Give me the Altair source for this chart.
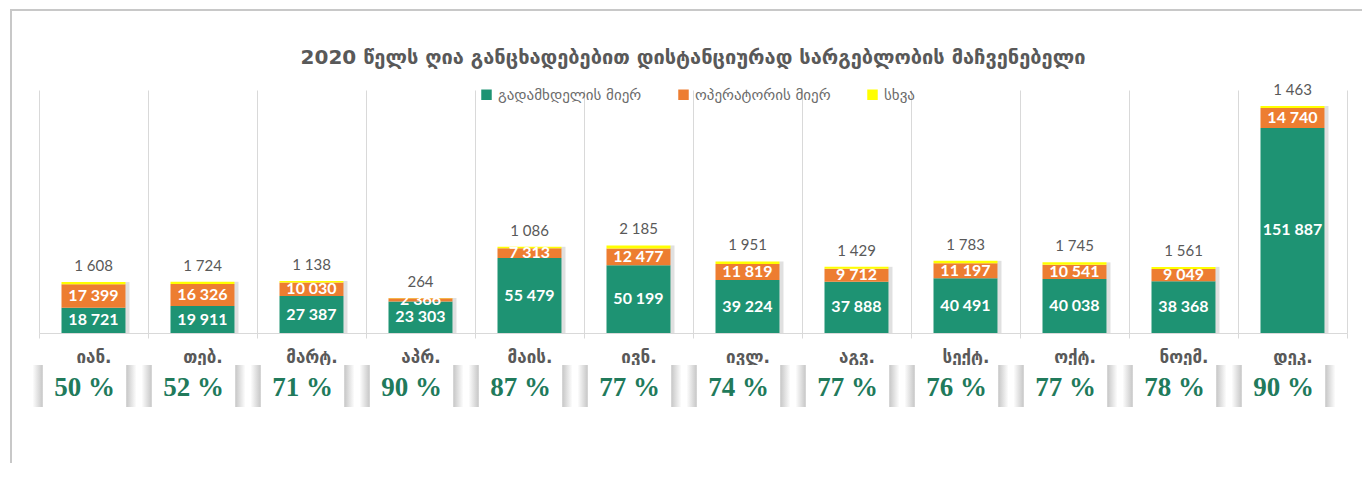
import altair as alt
import pandas as pd

months = ["იან.", "თებ.", "მარტ.", "აპრ.", "მაის.", "ივნ.", "ივლ.", "აგვ.", "სექტ.", "ოქტ.", "ნოემ.", "დეკ."]
series_names = ["გადამხდელის მიერ", "ოპერატორის მიერ", "სხვა"]
payer = [18721, 19911, 27387, 23303, 55479, 50199, 39224, 37888, 40491, 40038, 38368, 151887]
operator = [17399, 16326, 10030, 2366, 7313, 12477, 11819, 9712, 11197, 10541, 9049, 14740]
other = [1608, 1724, 1138, 264, 1086, 2185, 1951, 1429, 1783, 1745, 1561, 1463]
percent = [50, 52, 71, 90, 87, 77, 74, 77, 76, 77, 78, 90]
colors = ["#1e9373", "#ed7d31", "#ffff00"]
title_text = "2020 წელს ღია განცხადებებით დისტანციურად სარგებლობის მაჩვენებელი"

rows = []
for i, m in enumerate(months):
    for k, vals in enumerate([payer, operator, other]):
        v = vals[i]
        rows.append({"month": m, "series": series_names[k], "value": v, "order": k,
                     "label": f"{v:,}".replace(",", " ")})
df = pd.DataFrame(rows)
pct_df = pd.DataFrame({"month": months, "pct": [f"{p} %" for p in percent]})

W, H = 1308, 243

x_enc = alt.X("month:N", sort=months, title=None,
              scale=alt.Scale(paddingInner=0, paddingOuter=0),
              axis=alt.Axis(grid=True, tickBand="extent", gridColor="#d9d9d9",
                            tickColor="#d9d9d9", tickSize=5, domainColor="#d9d9d9",
                            labelAngle=0, labelFont="DejaVu Sans", labelFontSize=17,
                            labelFontWeight="bold", labelColor="#595959", labelPadding=11))
x_plain = alt.X("month:N", sort=months)
y_scale = alt.Scale(domain=[0, 180000])

base = alt.Chart(df)

stacked = base.transform_stack(
    stack="value", groupby=["month"], sort=[alt.SortField("order", "ascending")],
    as_=["v0", "v1"]
).transform_calculate(mid="(datum.v0 + datum.v1) / 2")

bars = base.mark_bar(width=64).encode(
    x=x_enc,
    y=alt.Y("value:Q", stack="zero", scale=y_scale, axis=None),
    color=alt.Color("series:N", scale=alt.Scale(domain=series_names, range=colors),
                    legend=alt.Legend(title=None, orient="none", direction="horizontal",
                                      legendX=440, legendY=-3, symbolType="square",
                                      symbolSize=110, symbolStrokeWidth=0,
                                      labelFont="DejaVu Sans", labelFontSize=15,
                                      labelColor="#6b6b6b", columnPadding=34)),
    order=alt.Order("order:Q"),
)

shadow = stacked.transform_filter("datum.order == 2").mark_bar(
    width=4, xOffset=34, color="#000000", opacity=0.12
).encode(x=x_plain, y=alt.Y("v1:Q", scale=y_scale, stack=None))

inner_labels = stacked.transform_filter("datum.order < 2").mark_text(
    font="Lato", fontSize=16, fontWeight="bold", color="white", baseline="middle"
).encode(x=x_plain, y=alt.Y("mid:Q", scale=y_scale), text="label:N")

top_labels = stacked.transform_filter("datum.order == 2").mark_text(
    font="Lato", fontSize=15, color="#595959", baseline="middle", dy=-16
).encode(x=x_plain, y=alt.Y("v1:Q", scale=y_scale), text="label:N")

shadow_grad = alt.Gradient(
    gradient="linear", x1=0, x2=1, y1=0, y2=0,
    stops=[alt.GradientStop(color="#ffffff", offset=0),
           alt.GradientStop(color="#c8c8c8", offset=0.095),
           alt.GradientStop(color="#ffffff", offset=0.1),
           alt.GradientStop(color="#ffffff", offset=0.9),
           alt.GradientStop(color="#c8c8c8", offset=0.905),
           alt.GradientStop(color="#ffffff", offset=1)])

pct_boxes = alt.Chart(pct_df).mark_bar(width=104, xOffset=-9, fill=shadow_grad).encode(
    x=x_plain, y=alt.value(275), y2=alt.value(317))

pct_text = alt.Chart(pct_df).mark_text(
    font="Liberation Serif", fontSize=27, fontWeight="bold", color="#217a5b",
    baseline="middle", dx=-9
).encode(x=x_plain, y=alt.value(298), text="pct:N")

frame = alt.Chart(pd.DataFrame({"a": [0]})).mark_rect(
    fill="transparent", stroke="#c8c8c8", strokeWidth=2
).encode(x=alt.value(-28), x2=alt.value(W + 60), y=alt.value(-80), y2=alt.value(H + 200))

title = alt.Chart(pd.DataFrame({"t": [title_text]})).mark_text(
    font="DejaVu Sans", fontSize=20, fontWeight="bold", color="#595959",
    baseline="middle", align="center"
).encode(x=alt.value(W / 2), y=alt.value(-32), text="t:N")

chart = alt.layer(frame, title, bars, shadow, inner_labels, top_labels, pct_boxes, pct_text).properties(
    width=W, height=H,
    autosize=alt.AutoSizeParams(type="none"),
    padding={"left": 31, "top": 82, "right": 15, "bottom": 130},
).configure_view(stroke=None)

chart.save("out.html", embed_options={"renderer": "svg", "actions": False})
